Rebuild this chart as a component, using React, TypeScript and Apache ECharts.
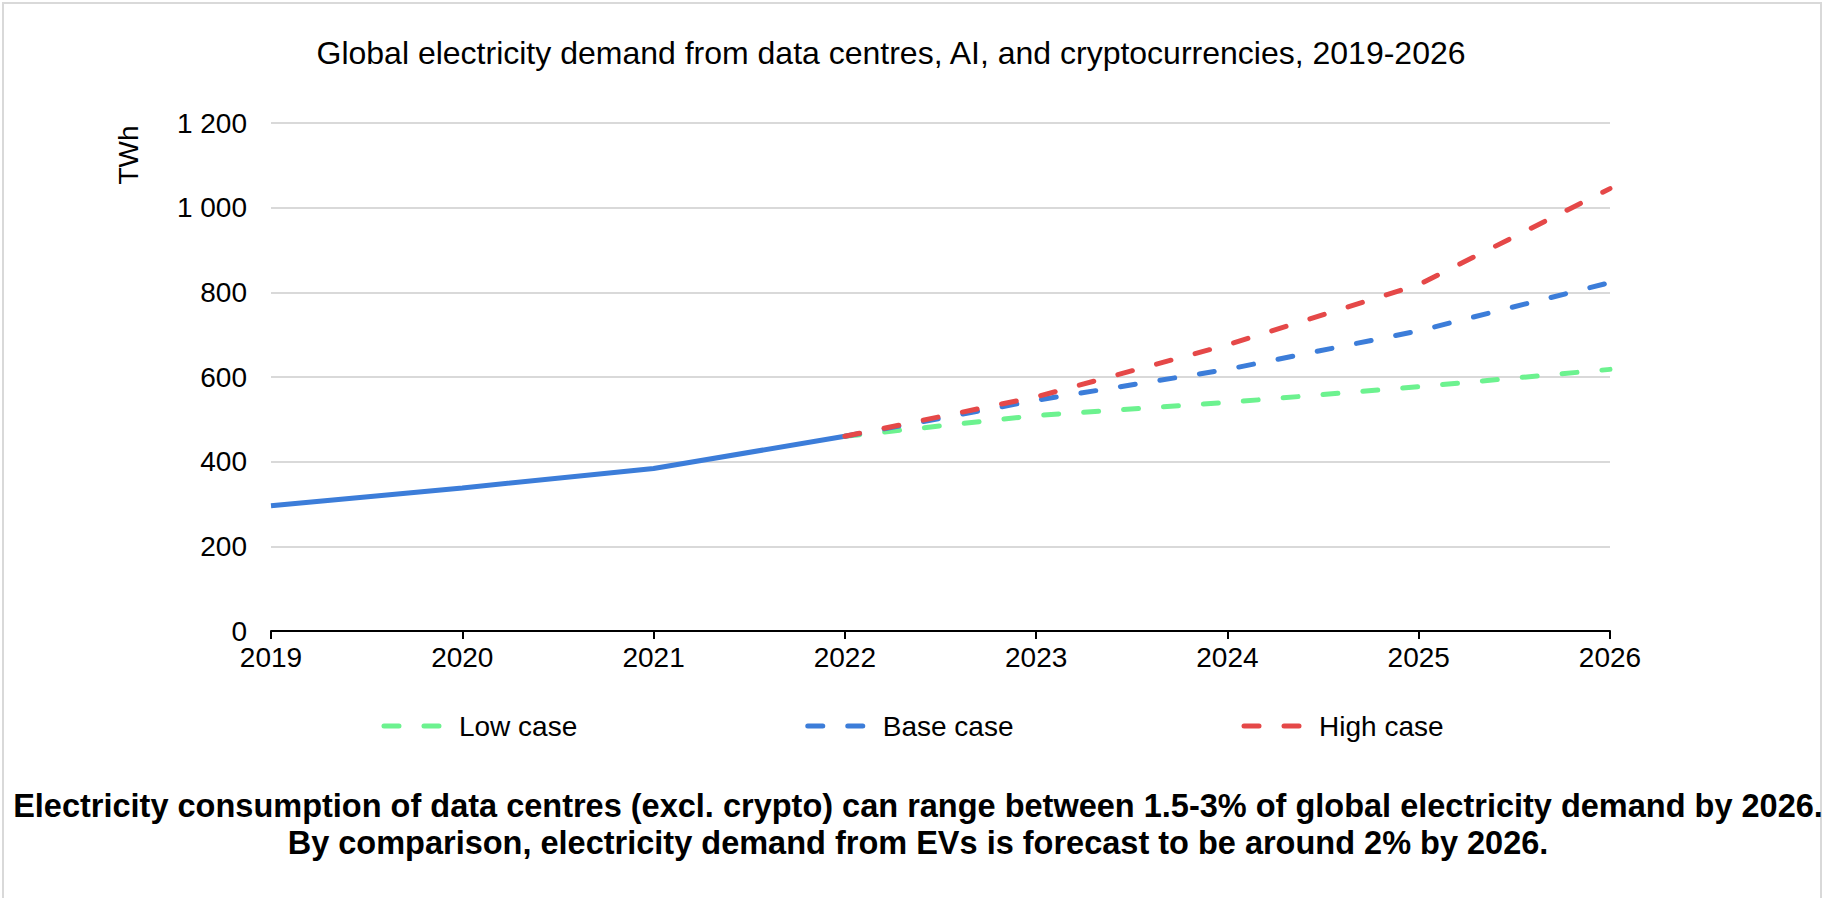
import React, { useEffect, useRef } from "react";
import * as echarts from "echarts";

const years = ["2019", "2020", "2021", "2022", "2023", "2024", "2025", "2026"];
const historical = [296, 338, 384, 460, null, null, null, null];
const lowCase = [null, null, null, 460, 509, 540, 577, 618];
const baseCase = [null, null, null, 460, 545, 618, 709, 823];
const highCase = [null, null, null, 460, 553, 676, 818, 1045];
const legendNames = ["Low case", "Base case", "High case"];

const titleText = "Global electricity demand from data centres, AI, and cryptocurrencies, 2019-2026";
const footnoteText =
  "Electricity consumption of data centres (excl. crypto) can range between 1.5-3% of global electricity demand by 2026.\nBy comparison, electricity demand from EVs is forecast to be around 2% by 2026.";
const yAxisName = "TWh";

const FONT = 'Arial, "Liberation Sans", sans-serif';
const GREEN = "#6cf28f";
const BLUE = "#3c7dd9";
const RED = "#e54848";
const DASH = [15, 25];

export default function App() {
  const ref = useRef<HTMLDivElement>(null);
  useEffect(() => {
    if (!ref.current) return;
    const chart = echarts.init(ref.current, null, { renderer: "svg" });
    const dashed = (name: string, data: (number | null)[], color: string) => ({
      name,
      type: "line",
      data,
      symbol: "none",
      showSymbol: false,
      connectNulls: false,
      itemStyle: { color },
      lineStyle: { color, width: 5, type: DASH, cap: "round" },
    });
    chart.setOption({
      animation: false,
      backgroundColor: "#ffffff",
      textStyle: { fontFamily: FONT },
      title: [
        {
          text: titleText,
          left: 886,
          top: 32,
          textAlign: "center",
          textStyle: { fontFamily: FONT, fontSize: 32, fontWeight: "normal", color: "#000" },
        },
        {
          text: footnoteText,
          left: 913,
          top: 782,
          textAlign: "center",
          textStyle: { fontFamily: FONT, fontSize: 32.5, fontWeight: "bold", color: "#000", lineHeight: 37 },
        },
      ],
      legend: {
        data: legendNames,
        left: "center",
        top: 707,
        itemWidth: 62,
        itemHeight: 14,
        itemGap: 228,
        itemStyle: { opacity: 0 },
        lineStyle: { width: 5, type: DASH, cap: "round" },
        textStyle: { fontFamily: FONT, fontSize: 28, color: "#000", padding: [0, 0, 0, 8] },
      },
      grid: { left: 271, right: 215, top: 123, bottom: 267, containLabel: false },
      xAxis: {
        type: "category",
        data: years,
        boundaryGap: false,
        axisLine: { lineStyle: { color: "#000", width: 2 } },
        axisTick: { show: true, length: 8, lineStyle: { color: "#000", width: 2 } },
        axisLabel: { fontFamily: FONT, fontSize: 28, color: "#000", margin: 12 },
        splitLine: { show: false },
      },
      yAxis: {
        type: "value",
        min: 0,
        max: 1200,
        interval: 200,
        axisLine: { show: false },
        axisTick: { show: false },
        axisLabel: {
          fontFamily: FONT,
          fontSize: 28,
          color: "#000",
          margin: 24,
          formatter: (v: number) => String(v).replace(/\B(?=(\d{3})+(?!\d))/g, " "),
        },
        splitLine: { lineStyle: { color: "#d9d9d9", width: 2 } },
      },
      graphic: [
        {
          type: "rect",
          shape: { x: 3, y: 3, width: 1818, height: 900 },
          style: { fill: "none", stroke: "#d9d9d9", lineWidth: 2 },
          silent: true,
        },
        {
          type: "text",
          x: 128,
          y: 155,
          rotation: Math.PI / 2,
          style: {
            text: yAxisName,
            fontFamily: FONT,
            fontSize: 28,
            fill: "#000",
            align: "center",
            verticalAlign: "middle",
          },
        },
      ],
      series: [
        {
          name: "Historical",
          type: "line",
          data: historical,
          symbol: "none",
          showSymbol: false,
          itemStyle: { color: BLUE },
          lineStyle: { color: BLUE, width: 5 },
        },
        dashed("Low case", lowCase, GREEN),
        dashed("Base case", baseCase, BLUE),
        dashed("High case", highCase, RED),
      ],
    });
    return () => chart.dispose();
  }, []);
  return (
    <div
      ref={ref}
      style={{ position: "absolute", left: 0, top: 0, width: 1825, height: 898, background: "#fff" }}
    />
  );
}
